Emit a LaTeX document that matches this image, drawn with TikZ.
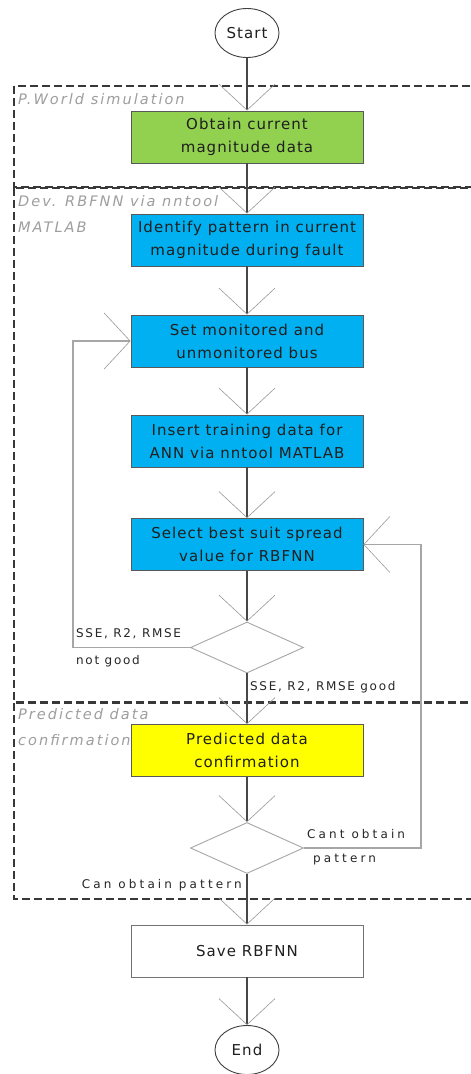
\documentclass[tikz,border=0pt]{standalone}
\usepackage{fontspec}
\setmainfont{DejaVu Sans}
\newfontfamily\boxfont[LetterSpace=7]{DejaVu Sans}
\newfontfamily\grpfont[LetterSpace=14]{DejaVu Sans}
\newfontfamily\edgefont[LetterSpace=14]{DejaVu Sans}
\newfontfamily\edgefontw[LetterSpace=26]{DejaVu Sans}
\usetikzlibrary{shapes.geometric,arrows.meta}
\definecolor{lgreen}{HTML}{92D050}
\definecolor{lblue}{HTML}{00B0F0}
\definecolor{lyellow}{HTML}{FFFF00}
\tikzset{
  proc/.style={draw=black!65, line width=0.9, minimum width=232, minimum height=52, inner sep=0,
    align=center, text=black!88, font=\boxfont\fontsize{15}{23}\selectfont},
  term/.style={draw=black!75, line width=0.9, ellipse, minimum width=64, minimum height=49, inner sep=0,
    text=black!88, font=\boxfont\fontsize{15}{16}\selectfont},
  decision/.style={draw=black!35, line width=0.9, diamond, minimum width=113, minimum height=51, inner sep=0},
  tipV/.tip={Straight Barb[length=26pt,width=56pt,line width=0.6pt,color=black!40]},
  flow/.style={draw=black!72, line width=1.1, -tipV},
  loopline/.style={draw=black!35, line width=1.1, -tipV},
  frame/.style={draw=black!78, line width=1.6, dash pattern=on 8pt off 4pt},
  grp/.style={text=black!38, align=left, inner sep=0, font=\grpfont\itshape\fontsize{14.5}{26}\selectfont},
  elab/.style={text=black!85, inner sep=0, font=\edgefont\fontsize{12}{14}\selectfont},
  elabw/.style={text=black!85, inner sep=0, font=\edgefontw\fontsize{12}{14}\selectfont}
}
\begin{document}
\begin{tikzpicture}[x=1pt,y=-1pt]
\clip (0,0) rectangle (471,1074);
\fill[white] (0,0) rectangle (471,1074);
% frames
\draw[frame] (14,86) rectangle (495,187);
\draw[frame] (14,188) rectangle (495,702);
\draw[frame] (14,703) rectangle (495,899);
\node[grp, anchor=west] (g1) at (18,99) {P.World simulation};
\node[grp, anchor=west] (g2) at (18,214) {Dev. RBFNN via nntool\\MATLAB};
\node[grp, anchor=west] (g3) at (18,727) {Predicted data\\confirmation};
% nodes
\node[term] (start) at (247,33) {Start};
\node[proc, fill=lgreen] (obtain) at (247,137) {Obtain current\\magnitude data};
\node[proc, fill=lblue] (ident) at (247,240) {Identify pattern in current\\magnitude during fault};
\node[proc, fill=lblue] (setbus) at (247,341) {Set monitored and\\unmonitored bus};
\node[proc, fill=lblue] (insert) at (247,441) {Insert training data for\\ANN via nntool MATLAB};
\node[proc, fill=lblue] (select) at (247,544.5) {Select best suit spread\\value for RBFNN};
\node[decision] (d1) at (247,647.5) {};
\node[proc, fill=lyellow] (pred) at (247,750.5) {Predicted data\\confirmation};
\node[decision] (d2) at (247,848) {};
\node[proc, draw=black!55, fill=white] (save) at (247,951) {Save RBFNN};
\node[term] (end) at (247,1050) {End};
\coordinate (l1) at (73,647.5);
\coordinate (r1) at (421,848);
% connectors
\draw[flow] (start) -- (obtain);
\draw[flow] (obtain) -- (ident);
\draw[flow] (ident) -- (setbus);
\draw[flow] (setbus) -- (insert);
\draw[flow] (insert) -- (select);
\draw[flow] (select) -- (d1);
\draw[flow] (d1) -- (pred);
\draw[flow] (pred) -- (d2);
\draw[flow] (d2) -- (save);
\draw[flow] (save) -- (end);
\draw[loopline] (d1.west) -- (l1) |- (setbus.west);
\draw[loopline] (d2.east) -- (r1) |- (select.east);
% edge labels
\node[elab, anchor=west] (e1) at (76,634) {SSE, R2, RMSE};
\node[elab, anchor=west] (e2) at (76,661) {not good};
\node[elab, anchor=west] (e3) at (250,687) {SSE, R2, RMSE good};
\node[elabw, anchor=west] (e4) at (307,834) {Cant obtain};
\node[elabw, anchor=west] (e5) at (313,860) {pattern};
\node[elabw, anchor=east] (e6) at (242,885) {Can obtain pattern};
\end{tikzpicture}
\end{document}
